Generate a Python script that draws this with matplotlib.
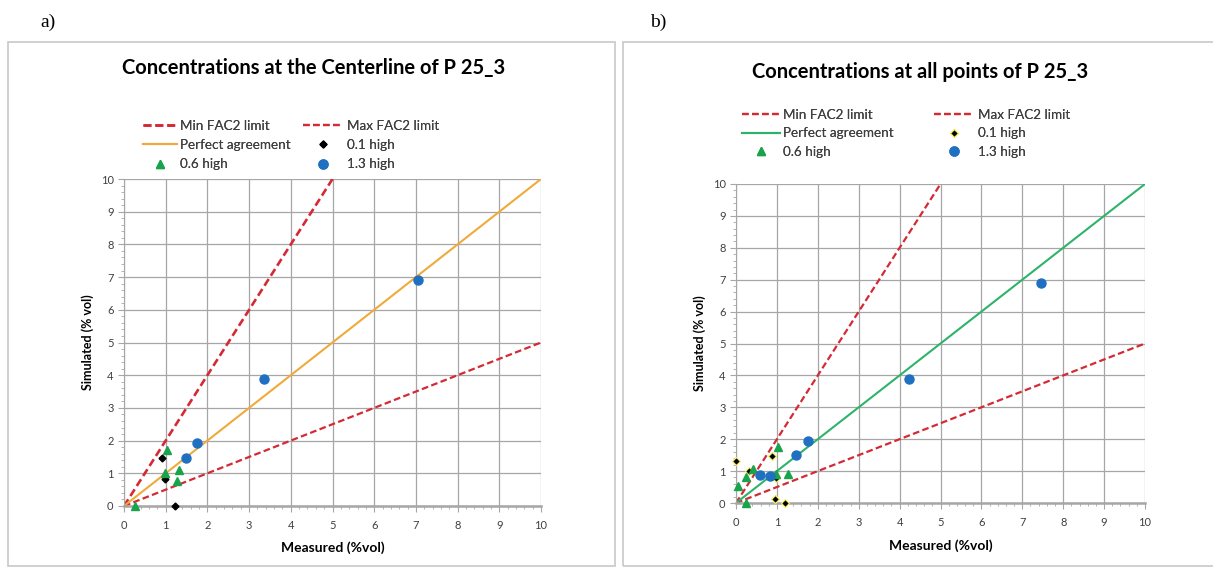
import numpy as np
import matplotlib
matplotlib.use("Agg")
import matplotlib.pyplot as plt
from matplotlib.patches import Rectangle
from matplotlib.ticker import MultipleLocator

plt.rcParams['font.family'] = ['Lato', 'DejaVu Sans']

# reference lines
line_x = np.array([0.0, 10.0])

# panel a: centerline
a_low_x = [0.90, 0.98, 1.23]          # 0.1 high
a_low_y = [1.48, 0.82, 0.0]
a_mid_x = [0.27, 1.04, 0.98, 1.31, 1.26]  # 0.6 high
a_mid_y = [0.0, 1.71, 1.0, 1.1, 0.76]
a_high_x = [1.49, 1.76, 3.35, 7.05]   # 1.3 high
a_high_y = [1.48, 1.94, 3.88, 6.9]

# panel b: all points
b_low_x = [0.0, 0.33, 0.87, 0.97, 0.95, 1.19]
b_low_y = [1.31, 1.0, 1.48, 0.79, 0.13, 0.0]
b_mid_x = [0.05, 0.24, 0.42, 0.24, 1.03, 0.97, 1.27]
b_mid_y = [0.52, 0.81, 1.08, 0.0, 1.75, 0.92, 0.91]
b_high_x = [0.59, 0.83, 1.47, 1.75, 4.23, 7.45]
b_high_y = [0.88, 0.84, 1.49, 1.94, 3.9, 6.9]

RED = '#d42a35'
BLUE = '#1f70c1'
GREEN = '#19a34a'
ORANGE = '#f0aa3a'
LINEGREEN = '#2eb36b'

W, H = 1213, 568
fig = plt.figure(figsize=(W / 100, H / 100), dpi=100)


def fx(px):
    return px / W


def fy(py):
    return 1 - py / H


# panel frames
fig.patches.append(Rectangle((fx(8), fy(566)), fx(607), 524 / H, transform=fig.transFigure,
                             fill=False, ec='#c8c8c8', lw=1.2))
fig.patches.append(Rectangle((fx(623), fy(566)), fx(600), 524 / H, transform=fig.transFigure,
                             fill=False, ec='#c8c8c8', lw=1.2))
fig.text(fx(40), fy(22), 'a)', family='Liberation Serif', fontsize=14, va='center', ha='left')
fig.text(fx(650), fy(22), 'b)', family='Liberation Serif', fontsize=14, va='center', ha='left')


def setup_ax(ax, title, title_x, title_y, ylabel_x, xlabel_y):
    ax.set_xlim(0, 10)
    ax.set_ylim(0, 10)
    ax.xaxis.set_major_locator(MultipleLocator(1))
    ax.yaxis.set_major_locator(MultipleLocator(1))
    ax.xaxis.set_minor_locator(MultipleLocator(0.2))
    ax.yaxis.set_minor_locator(MultipleLocator(0.2))
    ax.grid(True, which='major', color='#a6a6a6', lw=0.9)
    ax.set_axisbelow(True)
    for s in ['top', 'right']:
        ax.spines[s].set_visible(False)
    ax.spines['left'].set_color('#a6a6a6')
    ax.spines['bottom'].set_color('#a6a6a6')
    ax.spines['bottom'].set_linewidth(1.8)
    ax.tick_params(which='major', length=4, color='#a6a6a6', labelsize=8, labelcolor='#404040', direction='out')
    ax.tick_params(which='minor', length=2, color='#a6a6a6', direction='out')
    ax.tick_params(axis='x', pad=6)
    fig.text(fx(title_x), fy(title_y), title,
             fontsize=14.5, fontweight='bold', ha='center', va='center')
    fig.text(fx(ylabel_x), ax.get_position().y0 + ax.get_position().height / 2,
             'Simulated (% vol)', rotation=90, fontsize=9, fontweight='bold', ha='center', va='center')
    fig.text(ax.get_position().x0 + ax.get_position().width / 2, fy(xlabel_y),
             'Measured (%vol)', fontsize=10, fontweight='bold', ha='center', va='center')


def add_legend(handles, labels, x, y, hlen, spacing):
    leg = fig.legend(handles, labels, loc='upper left', bbox_to_anchor=(fx(x), fy(y)),
                     frameon=False, fontsize=9.7, handlelength=hlen, handletextpad=0.25,
                     labelspacing=spacing, borderpad=0, borderaxespad=0, labelcolor='#404040')
    fig.add_artist(leg)


# ---- panel a
ax1 = fig.add_axes([fx(124), fy(506), fx(417), 327 / H])
setup_ax(ax1, 'Concentrations at the Centerline of P 25_3', 314, 68, 88, 548)
h1, = ax1.plot(line_x, 2 * line_x, color=RED, ls=(0, (3, 1.5)), lw=1.9)
h2, = ax1.plot(line_x, 0.5 * line_x, color=RED, ls=(0, (3, 1.5)), lw=1.6)
h3, = ax1.plot(line_x, line_x, color=ORANGE, lw=1.5)
h4, = ax1.plot(a_low_x, a_low_y, 'D', color='black', ms=3.5, ls='none', clip_on=False, zorder=5)
h5, = ax1.plot(a_mid_x, a_mid_y, '^', color=GREEN, ms=6, ls='none', clip_on=False, zorder=5)
h6, = ax1.plot(a_high_x, a_high_y, 'o', color=BLUE, ms=6.5, ls='none', clip_on=False, zorder=5)
add_legend([h1, h3, h5], ['Min FAC2 limit', 'Perfect agreement', '0.6 high'], 143, 120, 2.5, 0.53)
add_legend([h2, h4, h6], ['Max FAC2 limit', '0.1 high', '1.3 high'], 303, 120, 3.0, 0.53)

# ---- panel b
ax2 = fig.add_axes([fx(736), fy(503), fx(409), 319 / H])
setup_ax(ax2, 'Concentrations at all points of P 25_3', 920, 72, 700, 546)
g1, = ax2.plot(line_x, 2 * line_x, color=RED, ls=(0, (3, 1.5)), lw=1.6)
g2, = ax2.plot(line_x, 0.5 * line_x, color=RED, ls=(0, (3, 1.5)), lw=1.6)
g3, = ax2.plot(line_x, line_x, color=LINEGREEN, lw=1.5)
g4, = ax2.plot(b_low_x, b_low_y, 'D', color='black', mec='#f4f06a', mew=0.9, ms=4.5, ls='none', clip_on=False, zorder=5)
g5, = ax2.plot(b_mid_x, b_mid_y, '^', color=GREEN, ms=6, ls='none', clip_on=False, zorder=5)
g6, = ax2.plot(b_high_x, b_high_y, 'o', color=BLUE, ms=6.5, ls='none', clip_on=False, zorder=5)
add_legend([g1, g3, g5], ['Min FAC2 limit', 'Perfect agreement', '0.6 high'], 742, 109, 2.8, 0.48)
add_legend([g2, g4, g6], ['Max FAC2 limit', '0.1 high', '1.3 high'], 934, 109, 3.0, 0.48)

fig.savefig('out.png', dpi=100)
